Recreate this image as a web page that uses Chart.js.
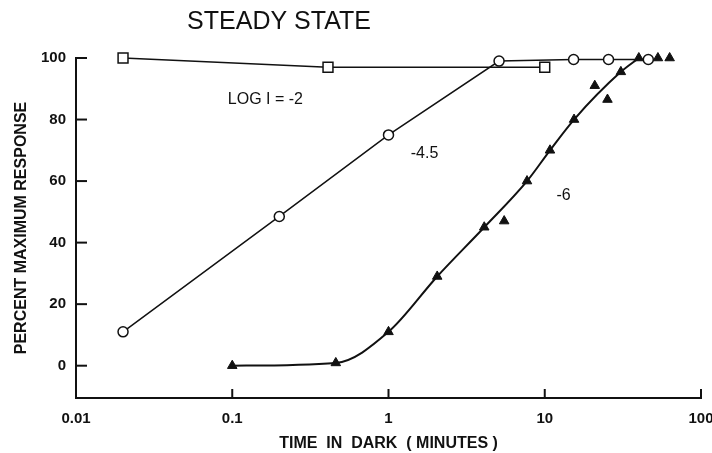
<!DOCTYPE html>
<html>
<head>
<meta charset="utf-8">
<script src="https://cdn.jsdelivr.net/npm/chart.js@4.4.1/dist/chart.umd.min.js"></script>
<style>
  html, body { margin: 0; padding: 0; background: #fff; }
  #wrap { width: 712px; height: 453px; }
</style>
</head>
<body>
<div id="wrap"><canvas id="chart"></canvas></div>
<script>
// values
const xTicks = [0.01, 0.1, 1, 10, 100];
const yTicks = [0, 20, 40, 60, 80, 100];

// log I = -2 (squares)
const sqX = [0.02, 0.41, 10];
const sqY = [100, 97, 97];
// log I = -4.5 (circles)
const ciX = [0.02, 0.2, 1, 5.1, 15.3, 25.6, 46];
const ciY = [11, 48.5, 75, 99, 99.5, 99.5, 99.5];
// log I = -6 (triangles on the fitted curve)
const trX = [0.1, 0.46, 1, 2.05, 4.1, 7.7, 10.8, 15.4, 30.7, 40];
const trY = [0, 0.9, 11, 29, 45, 60, 70, 80, 95.5, 100];
// log I = -6 (triangles off the curve)
const trOffX = [5.5, 20.9, 25.2, 53, 63];
const trOffY = [47, 91, 86.5, 100, 100];

const notes = [
  { text: 'LOG I = -2', x: 0.163, y: 86.6 },
  { text: '-4.5', x: 1.7, y: 69 },
  { text: '-6', x: 13.2, y: 55.4 }
];

const ink = '#111';
const FONT = '"Liberation Sans", Arial, sans-serif';
const pts = (xs, ys) => xs.map((x, i) => ({ x, y: ys[i] }));

const extras = {
  id: 'extras',
  afterDraw(chart) {
    const { ctx, scales: { x, y } } = chart;
    ctx.save();
    ctx.strokeStyle = ink;
    ctx.lineWidth = 2;
    // inward tick marks
    yTicks.forEach(v => {
      const py = y.getPixelForValue(v);
      ctx.beginPath(); ctx.moveTo(x.left, py); ctx.lineTo(x.left + 11, py); ctx.stroke();
    });
    xTicks.slice(1).forEach(v => {
      const px = x.getPixelForValue(v);
      ctx.beginPath(); ctx.moveTo(px, y.bottom); ctx.lineTo(px, y.bottom - 9); ctx.stroke();
    });
    ctx.fillStyle = ink;
    ctx.textAlign = 'center';
    ctx.textBaseline = 'middle';
    ctx.font = '16px ' + FONT;
    notes.forEach(n => ctx.fillText(n.text, x.getPixelForValue(n.x), y.getPixelForValue(n.y)));
    ctx.font = '25px ' + FONT;
    ctx.fillText('STEADY STATE', 279, 22);
    ctx.restore();
  }
};

new Chart(document.getElementById('chart'), {
  type: 'scatter',
  data: {
    datasets: [
      {
        data: pts(sqX, sqY), showLine: true, borderColor: ink, borderWidth: 1.5,
        pointStyle: 'rect', pointRadius: 7, pointBackgroundColor: '#fff', pointBorderColor: ink, pointBorderWidth: 1.5, clip: false
      },
      {
        data: pts(ciX, ciY), showLine: true, borderColor: ink, borderWidth: 1.5,
        pointStyle: 'circle', pointRadius: 5, pointBackgroundColor: '#fff', pointBorderColor: ink, pointBorderWidth: 1.5, clip: false
      },
      {
        data: pts(trX, trY), showLine: true, borderColor: ink, borderWidth: 2,
        cubicInterpolationMode: 'monotone',
        pointStyle: 'triangle', pointRadius: 5.5, pointBackgroundColor: ink, pointBorderColor: ink, pointBorderWidth: 1, clip: false
      },
      {
        data: pts(trOffX, trOffY), showLine: false,
        pointStyle: 'triangle', pointRadius: 5.5, pointBackgroundColor: ink, pointBorderColor: ink, pointBorderWidth: 1, clip: false
      }
    ]
  },
  options: {
    responsive: true,
    maintainAspectRatio: false,
    animation: false,
    layout: { padding: { top: 58, right: 0, left: 0, bottom: 0 } },
    plugins: { legend: { display: false }, tooltip: { enabled: false } },
    scales: {
      x: {
        type: 'logarithmic', min: 0.01, max: 100,
        afterBuildTicks: s => { s.ticks = xTicks.map(v => ({ value: v })); },
        afterFit: s => { s.height = 55; s.paddingRight = 11; s.paddingLeft = 0; },
        grid: { display: false, drawTicks: false },
        border: { display: true, width: 2, color: ink },
        ticks: {
          padding: 12, color: ink, maxRotation: 0,
          font: { family: FONT, size: 15, weight: 'bold' },
          callback: v => String(v)
        },
        title: {
          display: true, text: 'TIME  IN  DARK  ( MINUTES )', color: ink,
          font: { family: FONT, size: 16, weight: 'bold' },
          padding: { top: 2, bottom: 0 }
        }
      },
      y: {
        min: -10.5, max: 100,
        afterBuildTicks: s => { s.ticks = yTicks.map(v => ({ value: v })); },
        afterFit: s => { s.width = 76; },
        grid: { display: false, drawTicks: false },
        border: { display: true, width: 2, color: ink },
        ticks: {
          padding: 10, color: ink,
          font: { family: FONT, size: 15, weight: 'bold' }
        },
        title: {
          display: true, text: 'PERCENT MAXIMUM RESPONSE', color: ink,
          font: { family: FONT, size: 16, weight: 'bold' },
          padding: { top: 12, bottom: 0 }
        }
      }
    }
  },
  plugins: [extras]
});
</script>
</body>
</html>
